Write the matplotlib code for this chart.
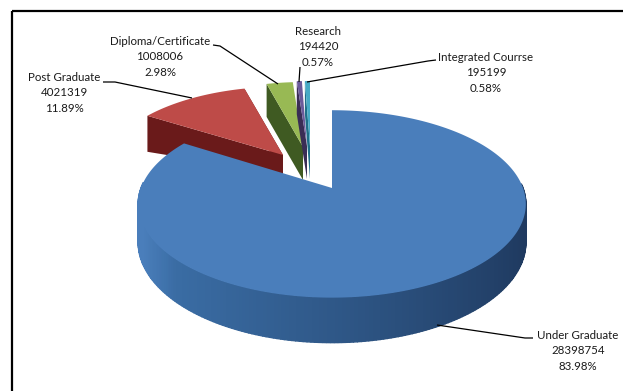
import numpy as np
import matplotlib
matplotlib.use("Agg")
import matplotlib.pyplot as plt
from matplotlib.patches import Polygon
from matplotlib.colors import to_rgb

categories = ["Under Graduate", "Post Graduate", "Diploma/Certificate", "Research", "Integrated Courrse"]
enrolment = [28398754, 4021319, 1008006, 194420, 195199]
percent_labels = ["83.98%", "11.89%", "2.98%", "0.57%", "0.58%"]

W, H = 623, 391
plt.rcParams['font.family'] = ['Lato', 'DejaVu Sans']
fig = plt.figure(figsize=(W / 100, H / 100), dpi=100)
ax = fig.add_axes([0, 0, 1, 1])
ax.set_xlim(0, W)
ax.set_ylim(H, 0)
ax.axis('off')

top_cols = ["#4a7ebb", "#be4b48", "#98b954", "#6a5a9a", "#46aac5"]
dark_cols = ["#1f3a60", "#6a1a1a", "#3f5a22", "#3a2d55", "#1f6f88"]
side_lt = ["#3b6ea6", "#7a2020", "#46642a", "#3d3060", "#2a85a0"]
# pivot x, y, radius scale x, radius scale y
pivots = [(332, 188, 191, 91), (283, 155, 175, 80), (303, 147, 165, 76),
          (307, 146, 165, 76), (310, 146, 165, 76)]
depths = [45, 36, 33, 33, 33]
pivot_depth = [45, 19, 33, 33, 33]
K = 0.17

vals = np.array(enrolment, float)
edges = np.concatenate([[0], np.cumsum(vals) / vals.sum() * 2 * np.pi])


def project(theta, p):
    px, py, rx, ry = p
    u, v = np.sin(theta), np.cos(theta)
    d = 1 + K * v
    return px + rx * u / d, py - ry * v / d


z = 1
# back slices first, the big front slice last
for i in [1, 2, 3, 4, 0]:
    t = np.linspace(edges[i], edges[i + 1], max(6, int((edges[i + 1] - edges[i]) * 60)))
    x, y = project(t, pivots[i])
    p = pivots[i]
    dep = depths[i]
    if i != 0:
        ends = [t[0], t[-1]] if i == 1 else [t[0]]
        for e in ends:
            ex, ey = project(e, p)
            d_end = dep if e == t[0] else pivot_depth[i]
            poly = [(p[0], p[1]), (ex, ey), (ex, ey + d_end), (p[0], p[1] + pivot_depth[i])]
            ax.add_patch(Polygon(poly, closed=True, fc=dark_cols[i], ec='none', zorder=z))
            z += 1
    else:
        scale = 1 / (1 + K * np.cos(t))
        dy = dep * scale / scale.max()
        lt, dk, tp = (np.array(to_rgb(c)) for c in (side_lt[0], dark_cols[0], top_cols[0]))
        for j in range(len(t) - 1):
            s, c = np.sin(t[j]), np.cos(t[j])
            if c > 0.05:
                continue
            f = np.clip((s + 0.8) / 1.75, 0, 1) ** 1.1
            col = lt * (1 - f) + dk * f
            blend = np.clip((-s - 0.72) / 0.2, 0, 1) if s < 0 else 0
            col = col * (1 - blend) + tp * blend
            q = [(x[j], y[j]), (x[j + 1], y[j + 1]),
                 (x[j + 1], y[j + 1] + dy[j + 1]), (x[j], y[j] + dy[j])]
            ax.add_patch(Polygon(q, closed=True, fc=col, ec=col, lw=1.0, zorder=z))
        z += 1
    ax.add_patch(Polygon(np.column_stack([np.r_[p[0], x], np.r_[p[1], y]]), closed=True,
                         fc=top_cols[i], ec='none', zorder=z))
    z += 1

# leader lines and data labels
leaders = [
    [(437, 325), (525, 338), (533, 338)],
    [(192, 98), (115, 82), (103, 82)],
    [(278, 84), (220, 46), (213, 45)],
    [(299, 82), (300, 67)],
    [(307, 82), (428, 61), (436, 60)],
]
label_pos = [(578, 351), (64, 93), (160, 57), (318, 47), (486, 73)]
for i, name in enumerate(categories):
    xs, ys = zip(*leaders[i])
    ax.plot(xs, ys, color='black', lw=0.9, zorder=50, solid_capstyle='butt')
    ax.text(*label_pos[i], f"{name}\n{enrolment[i]}\n{percent_labels[i]}", ha='center', va='center',
            fontsize=8.3, color='#1a1a1a', linespacing=1.5, zorder=51)

# frame
ax.plot([11.5, 11.5], [H, 10.5], color='black', lw=1.6, zorder=60, solid_capstyle='butt')
ax.plot([11.5, W], [10.5, 10.5], color='black', lw=1.6, zorder=60, solid_capstyle='butt')

fig.savefig("out.png", dpi=100, facecolor='white')
